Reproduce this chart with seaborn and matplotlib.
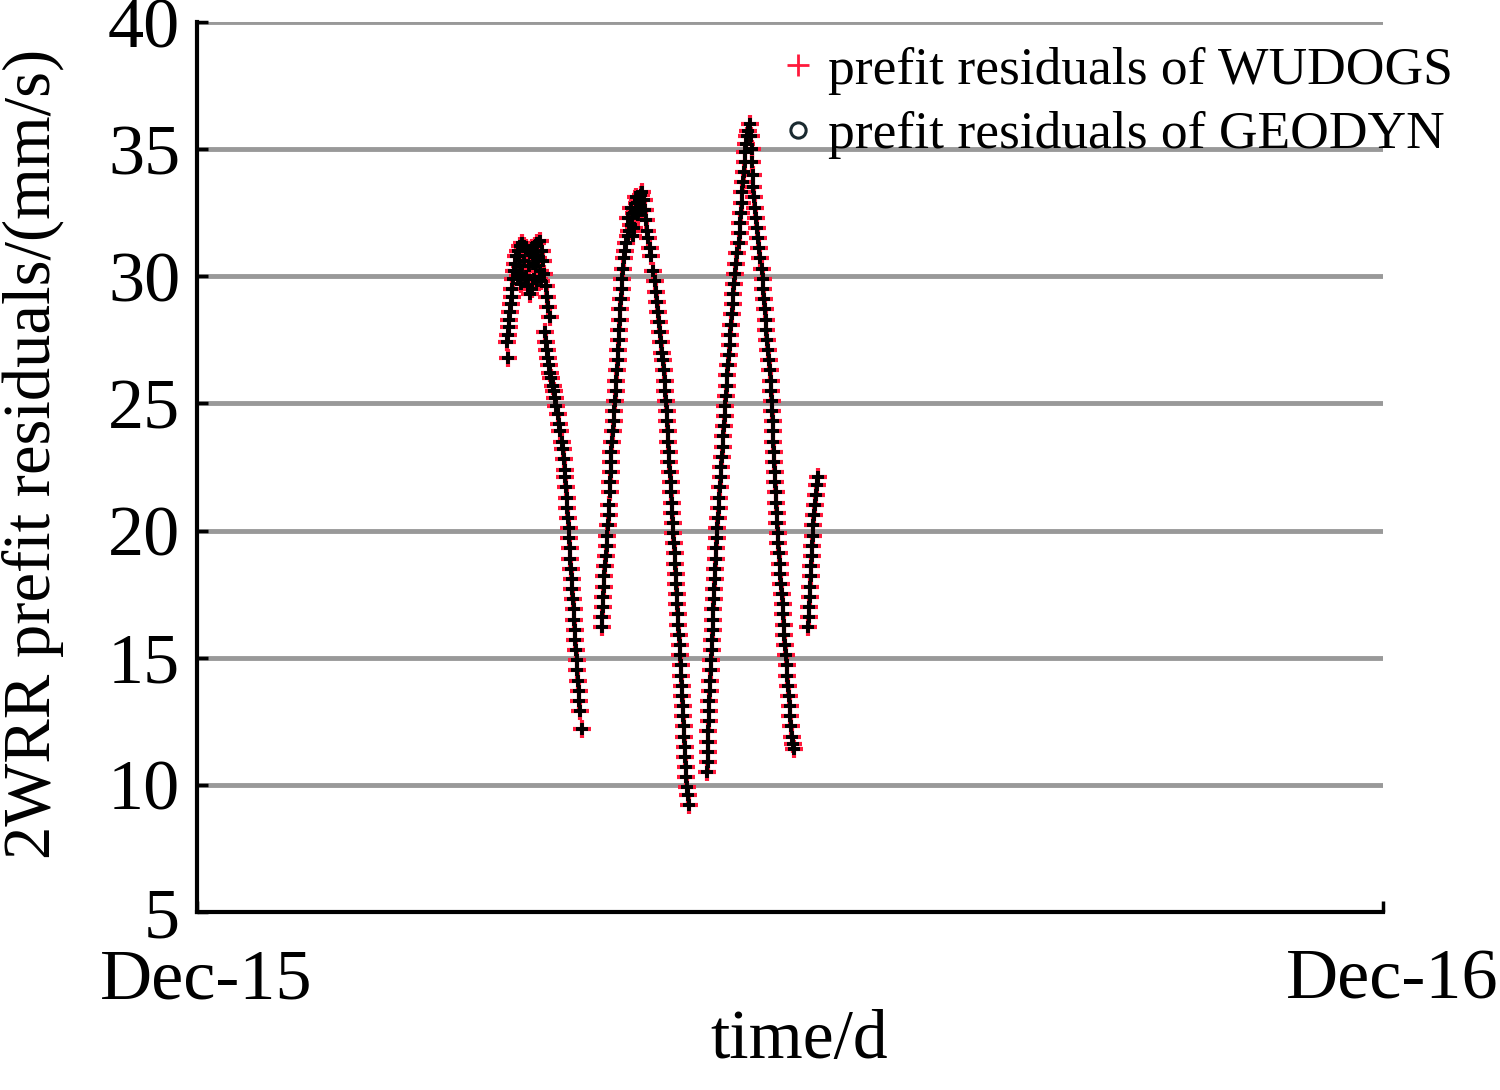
# 2W range-rate prefit residuals, WUDOGS vs GEODYN
import numpy as np
import pandas as pd
import matplotlib
matplotlib.use("Agg")
import matplotlib.pyplot as plt
import matplotlib.transforms as mtrans
import seaborn as sns
from matplotlib.lines import Line2D

# ---- data (days since Dec-15, residual in mm/s), one list per pass ----
arc1_day = [96.1, 95.8, 96.0, 96.3, 96.4, 96.7, 96.8, 97.1, 97.3, 97.6, 97.8, 98.1, 98.5, 99.0,
            99.6, 100.2, 100.8, 101.5, 102.2, 102.8, 103.5, 104.2, 105.0, 105.9, 106.4, 106.8,
            107.2, 107.6, 107.9, 108.3, 108.9,
            98.6, 99.2, 99.8, 100.4, 101.0, 101.6, 102.2, 102.8, 103.4, 104.0, 104.6, 105.2,
            105.8, 106.3, 100.0, 101.2, 103.8, 105.0, 99.3, 102.5, 104.3]
arc1_res = [26.8, 27.4, 27.7, 28.0, 28.3, 28.6, 28.9, 29.2, 29.5, 29.9, 30.2, 30.5, 30.8, 31.0,
            31.2, 31.3, 31.2, 31.1, 31.0, 30.9, 31.1, 31.2, 31.3, 31.4, 31.0, 30.6,
            30.1, 29.6, 29.2, 28.8, 28.4,
            30.2, 30.0, 30.4, 30.1, 30.6, 30.0, 29.6, 29.3, 29.5, 29.9, 30.4, 30.7,
            30.2, 29.8, 29.7, 29.9, 30.5, 29.8, 30.8, 30.4, 30.8]

arc2_day = [107.4, 107.6, 107.9, 108.3, 108.6, 109.0, 109.4, 109.8, 110.2, 110.5, 110.9, 111.3,
            111.7, 112.1, 112.5, 112.9, 113.2, 113.5, 113.7, 113.9, 114.1, 114.3, 114.5, 114.7,
            114.8, 115.0, 115.2, 115.4, 115.6, 115.8, 116.0, 116.2, 116.3, 116.6, 116.8, 117.0,
            117.2, 117.4, 117.6, 117.8, 118.0, 118.2, 118.8]
arc2_res = [27.8, 27.4, 27.1, 26.8, 26.5, 26.2, 26.0, 25.7, 25.5, 25.2, 24.9, 24.6,
            24.2, 23.9, 23.5, 23.2, 22.8, 22.4, 22.1, 21.7, 21.3, 20.9, 20.5, 20.1,
            19.7, 19.3, 18.9, 18.5, 18.1, 17.7, 17.3, 16.9, 16.5, 16.1, 15.7, 15.3,
            14.9, 14.5, 14.1, 13.7, 13.3, 12.9, 12.2]

arc3_day = [125.0, 125.1, 125.2, 125.3, 125.5, 125.7, 125.9, 126.1, 126.4, 126.6, 126.9, 127.1,
            127.2, 127.4, 127.5, 127.7, 127.8, 127.9, 128.2, 128.4, 128.6, 128.8, 129.0, 129.2,
            129.4, 129.6, 129.8, 130.0, 130.2, 130.3, 130.5, 130.7, 130.9, 131.1, 131.3, 131.5,
            131.8, 132.1, 132.5, 132.9, 133.4, 133.9, 134.4, 134.9, 135.4, 135.9, 136.4, 136.9,
            137.3, 133.0, 134.0, 135.0, 136.0, 135.6, 134.5, 136.7, 137.5]
arc3_res = [16.2, 16.6, 17.0, 17.4, 17.8, 18.2, 18.6, 19.0, 19.4, 19.8, 20.2, 20.6,
            21.0, 21.5, 21.9, 22.3, 22.7, 23.1, 23.5, 23.9, 24.3, 24.7, 25.1, 25.5,
            25.9, 26.3, 26.7, 27.1, 27.5, 27.9, 28.3, 28.7, 29.1, 29.5, 29.9, 30.3,
            30.7, 31.0, 31.3, 31.6, 31.8, 32.0, 32.3, 32.5, 32.7, 32.9, 33.0, 33.2,
            33.3, 32.3, 32.7, 31.9, 32.4, 33.1, 31.6, 32.6, 32.6]

arc4_day = [137.8, 138.2, 138.6, 138.9, 139.3, 139.7, 140.1, 140.8, 141.2, 141.6, 142.0, 142.3,
            142.6, 142.9, 143.2, 143.5, 143.8, 144.0, 144.3, 144.5, 144.8, 145.0, 145.2, 145.3,
            145.5, 145.7, 145.8, 146.0, 146.2, 146.3, 146.5, 146.7, 146.8, 147.0, 147.2, 147.4,
            147.5, 147.7, 147.9, 148.1, 148.2, 148.4, 148.6, 148.8, 149.0, 149.2, 149.4, 149.5,
            149.7, 149.8, 150.0, 150.1, 150.3, 150.4, 150.6, 150.7, 150.9, 151.0, 151.2, 151.4,
            151.8]
arc4_res = [33.0, 32.6, 32.2, 31.8, 31.5, 31.1, 30.8, 30.2, 29.8, 29.4, 29.0, 28.6,
            28.2, 27.8, 27.4, 27.0, 26.7, 26.3, 25.9, 25.5, 25.1, 24.7, 24.3, 23.9,
            23.5, 23.1, 22.7, 22.3, 21.9, 21.5, 21.1, 20.7, 20.3, 19.9, 19.5, 19.1,
            18.7, 18.3, 17.9, 17.5, 17.1, 16.7, 16.3, 15.9, 15.5, 15.1, 14.7, 14.3,
            13.9, 13.5, 13.1, 12.7, 12.3, 11.9, 11.5, 11.1, 10.7, 10.3, 9.9, 9.6,
            9.2]

arc5_day = [157.5, 157.6, 157.7, 157.7, 157.8, 157.9, 158.0, 158.1, 158.2, 158.3, 158.5, 158.6,
            158.8, 158.9, 159.1, 159.2, 159.4, 159.5, 159.7, 159.8, 160.0, 160.1, 160.3, 160.4,
            160.6, 160.8, 161.0, 161.2, 161.4, 161.6, 161.8, 162.0, 162.2, 162.4, 162.6, 162.8,
            163.0, 163.3, 163.5, 163.7, 163.9, 164.2, 164.4, 164.6, 164.8, 165.0, 165.3, 165.5,
            165.8, 166.1, 166.4, 166.8, 167.2, 167.5, 167.7, 167.9, 168.1, 168.3, 168.5, 168.8,
            169.0, 169.2, 169.5, 169.8, 170.2, 170.7]
arc5_res = [10.5, 10.9, 11.3, 11.7, 12.1, 12.5, 12.9, 13.3, 13.7, 14.1, 14.5, 14.9,
            15.3, 15.7, 16.1, 16.5, 16.9, 17.3, 17.7, 18.1, 18.5, 18.9, 19.3, 19.7,
            20.1, 20.5, 20.9, 21.3, 21.7, 22.1, 22.5, 22.9, 23.3, 23.7, 24.1, 24.5,
            24.9, 25.3, 25.7, 26.1, 26.5, 26.9, 27.3, 27.7, 28.1, 28.5, 28.9, 29.3,
            29.7, 30.1, 30.5, 30.9, 31.3, 31.7, 32.1, 32.5, 32.9, 33.3, 33.7, 34.1,
            34.5, 34.9, 35.2, 35.5, 35.7, 36.0]

arc6_day = [171.0, 171.2, 171.3, 171.5, 171.7, 171.9, 172.2, 172.5, 172.8, 173.1, 173.5, 173.9,
            174.3, 174.6, 174.8, 175.0, 175.2, 175.5, 175.7, 176.0, 176.2, 176.4, 176.7, 177.0,
            177.2, 177.4, 177.5, 177.7, 177.8, 177.9, 178.0, 178.2, 178.3, 178.5, 178.6, 178.7,
            178.9, 179.0, 179.2, 179.4, 179.6, 179.8, 180.0, 180.3, 180.5, 180.7, 180.9, 181.1,
            181.3, 181.5, 181.8, 182.0, 182.2, 182.5, 182.7, 182.9, 183.1, 183.4, 183.6, 183.9,
            184.2]
arc6_res = [35.5, 35.0, 34.5, 34.0, 33.5, 33.1, 32.7, 32.3, 31.9, 31.5, 31.1, 30.7,
            30.3, 29.9, 29.5, 29.1, 28.7, 28.3, 27.9, 27.5, 27.1, 26.7, 26.3, 25.9,
            25.5, 25.1, 24.7, 24.3, 23.9, 23.5, 23.1, 22.7, 22.3, 21.9, 21.5, 21.1,
            20.7, 20.3, 19.9, 19.5, 19.1, 18.7, 18.3, 17.9, 17.5, 17.1, 16.7, 16.3,
            15.9, 15.5, 15.1, 14.7, 14.3, 13.9, 13.5, 13.1, 12.7, 12.3, 11.9, 11.6,
            11.4]

arc7_day = [188.7, 188.8, 188.9, 189.1, 189.2, 189.4, 189.5, 189.7, 189.8, 190.0, 190.2, 190.4,
            190.6, 190.9, 191.2, 191.5]
arc7_res = [16.2, 16.6, 17.0, 17.4, 17.8, 18.2, 18.6, 19.0, 19.4, 19.8, 20.2, 20.6,
            21.0, 21.4, 21.8, 22.1]

x_ticks = [0, 366]
x_ticklabels = ["Dec-15", "Dec-16"]
y_ticks = [5, 10, 15, 20, 25, 30, 35, 40]

# both solutions sit on top of each other at this scale
days = arc1_day + arc2_day + arc3_day + arc4_day + arc5_day + arc6_day + arc7_day
wudogs = arc1_res + arc2_res + arc3_res + arc4_res + arc5_res + arc6_res + arc7_res
geodyn = list(wudogs)
df = pd.DataFrame({"day": days, "WUDOGS": wudogs, "GEODYN": geodyn})

# ---- style ----
sns.set_theme(style="white")
plt.rcParams["font.family"] = ["Liberation Serif", "DejaVu Serif"]
plt.rcParams["text.color"] = "black"

RED = "#ff1a3c"

fig = plt.figure(figsize=(15, 10.9), dpi=100)
ax = fig.add_axes([0.1313, 0.1633, 0.7907, 0.8165])

sns.scatterplot(data=df, x="day", y="WUDOGS", marker="+", color=RED, s=160,
                linewidth=3.0, ax=ax, zorder=3)
sns.scatterplot(data=df, x="day", y="GEODYN", marker="+", color="black", s=70,
                linewidth=2.8, ax=ax, zorder=4)

ax.set_xlim(0, 366)
ax.set_ylim(5, 40)
ax.set_xticks(x_ticks)
ax.set_xticklabels(x_ticklabels)
ax.set_yticks(y_ticks)

ax.yaxis.grid(True, color="#999999", linewidth=3.5, zorder=0)
ax.xaxis.grid(False)
ax.set_axisbelow(True)

for side in ["top", "right"]:
    ax.spines[side].set_visible(False)
for side in ["left", "bottom"]:
    ax.spines[side].set_color("black")
    ax.spines[side].set_linewidth(3)

ax.tick_params(axis="both", direction="in", length=8, width=2.5, color="black",
               labelsize=52, labelcolor="black")
ax.tick_params(axis="y", pad=12, left=True)
ax.tick_params(axis="x", pad=26, bottom=True)

# nudge the month labels a little to the right, like the original
shift = mtrans.ScaledTranslation(9 / 100, 0, fig.dpi_scale_trans)
for lab in ax.get_xticklabels():
    lab.set_transform(lab.get_transform() + shift)

ax.set_xlabel("time/d", fontsize=50, color="black")
ax.xaxis.set_label_coords(0.508, -0.11)
ax.set_ylabel("2WRR prefit residuals/(mm/s)", fontsize=48, color="black")
ax.yaxis.set_label_coords(-0.112, 0.515)

handles = [
    Line2D([], [], marker="+", linestyle="none", color=RED, markersize=16, markeredgewidth=2),
    Line2D([], [], marker="o", linestyle="none", markerfacecolor="none",
           markeredgecolor="#1a2a30", markersize=11, markeredgewidth=2.2),
]
leg = ax.legend(handles, ["prefit residuals of WUDOGS", "prefit residuals of GEODYN"],
                loc="upper left", bbox_to_anchor=(0.507, 0.977), bbox_transform=fig.transFigure,
                frameon=False, fontsize=38.5, handlelength=0.6, handletextpad=0.27,
                labelspacing=0.3, borderaxespad=0)
for t in leg.get_texts():
    t.set_color("black")

fig.savefig("out.png", dpi=100)
